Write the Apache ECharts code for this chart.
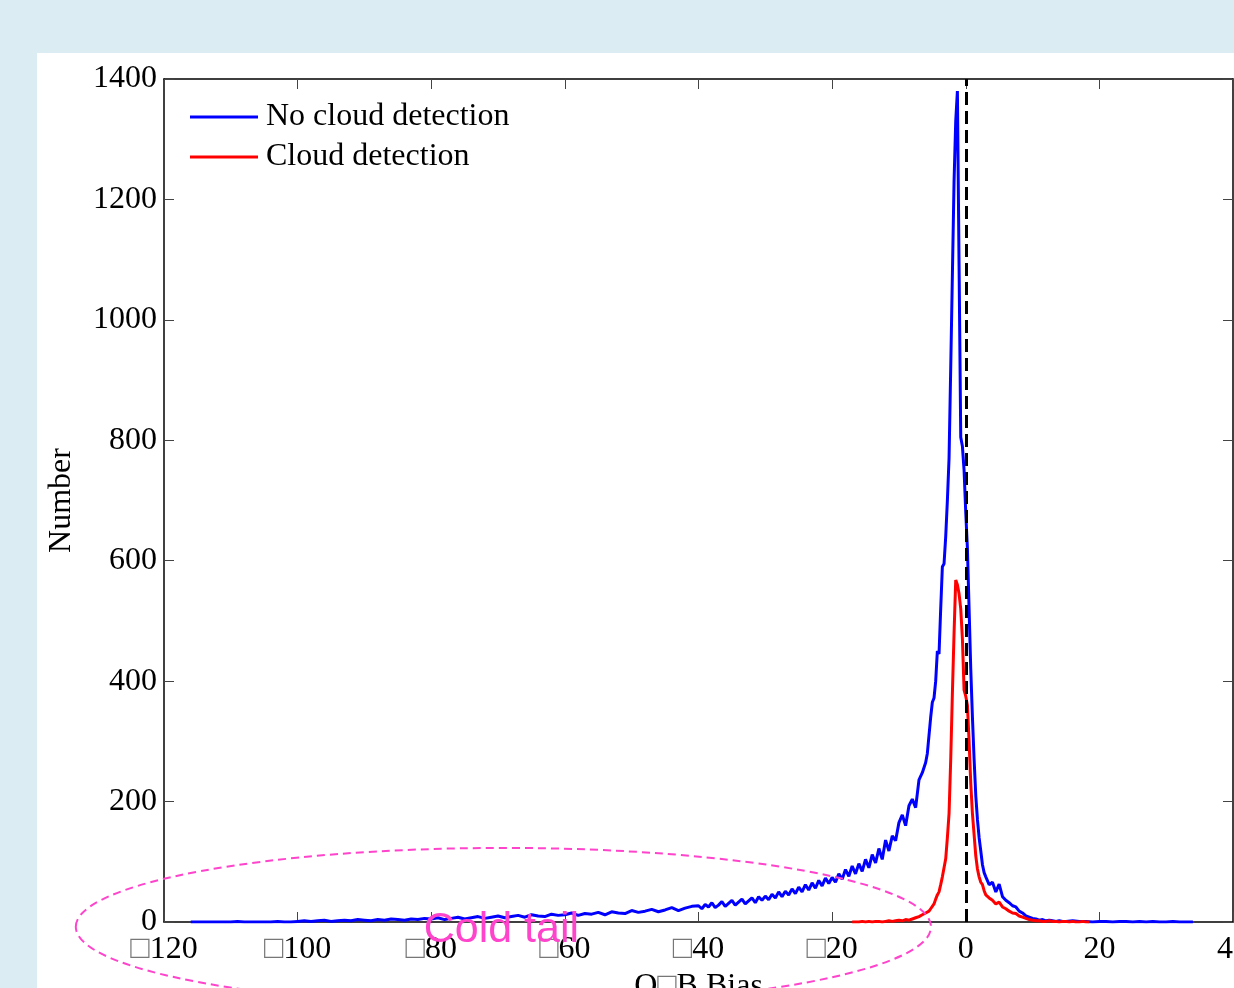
<!DOCTYPE html>
<html>
<head>
<meta charset="utf-8">
<script src="https://cdn.jsdelivr.net/npm/echarts@6/dist/echarts.min.js"></script>
<style>
html,body{margin:0;padding:0;background:#dbedf3;width:1234px;height:988px;overflow:hidden;}
#panel{position:absolute;left:37px;top:53px;width:1197px;height:935px;background:#fff;}
#chart{position:absolute;left:0;top:0;width:1234px;height:988px;}
</style>
</head>
<body>
<div id="panel"></div>
<div id="chart"></div>
<script>
// ---- data ----
const xTicks = [-120, -100, -80, -60, -40, -20, 0, 20, 40];
const yTicks = [0, 200, 400, 600, 800, 1000, 1200, 1400];
const seriesNames = ['No cloud detection', 'Cloud detection'];

const blueX = [
  -116,-115,-114,-113,-112,-111,-110,-109,-108,-107,-106,-105,-104,-103,-102,-101,
  -100,-99,-98,-97,-96,-95,-94,-93,-92,-91,-90,-89,-88,-87,-86,-85,-84,-83,-82,-81,
  -80,-79,-78,-77,-76,-75,-74,-73,-72,-71,-70,-69,-68,-67,-66,-65,-64,-63,-62,-61,
  -60,-59,-58,-57,-56,-55,-54,-53,-52,-51,-50,-49,-48,-47,-46,-45,-44,-43,-42,-41,
  -40,-39.5,-39,-38.5,-38,-37.5,-37,-36.5,-36,-35.5,-35,-34.5,-34,-33.5,-33,-32.5,-32,-31.5,-31,-30.5,
  -30,-29.5,-29,-28.5,-28,-27.5,-27,-26.5,-26,-25.5,-25,-24.5,-24,-23.5,-23,-22.5,-22,-21.5,-21,-20.5,
  -20,-19.5,-19,-18.5,-18,-17.5,-17,-16.5,-16,-15.5,-15,-14.5,-14,-13.5,-13,-12.5,-12,-11.5,-11,-10.5,
  -10,-9.5,-9,-8.5,-8,-7.5,-7,-6.5,
  -6,-5.75,-5.5,-5.25,-5,-4.75,-4.5,-4.25,-4,-3.75,-3.5,-3.25,-3,-2.75,-2.5,-2.25,-2,-1.75,
  -1.5,-1.25,-1,-0.75,-0.5,-0.25,0,0.25,0.5,0.75,1,1.25,1.5,1.75,2,2.25,2.5,2.75,
  3,3.5,4,4.5,5,5.5,6,6.5,7,7.5,8,8.5,9,9.5,10,10.5,11,11.5,12,12.5,13,13.5,14,14.5,
  15,16,17,18,19,20,21,22,23,24,25,26,27,28,29,30,31,32,33,34
];
const blueY = [
  0,0,0,0,0,0,0,1,0,0,0,0,0,1,0,0,
  1,2,1,2,3,1,2,3,2,4,3,2,4,3,5,4,3,5,4,6,
  5,7,4,6,8,5,7,9,6,8,10,7,9,11,8,12,10,9,13,11,
  12,15,11,14,13,16,12,17,15,14,19,16,18,21,17,20,24,19,23,26,
  27,22,29,25,32,24,28,34,26,31,36,28,33,38,30,35,40,32,42,36,
  43,37,46,40,50,42,51,45,55,47,58,50,62,53,65,56,69,60,73,64,
  74,66,80,71,87,76,93,80,97,84,104,90,112,98,122,104,136,118,143,135,
  165,178,160,193,204,190,236,248,
  265,280,310,340,365,372,400,450,445,520,590,595,640,700,770,920,1075,1230,
  1330,1380,1090,805,790,750,680,620,520,420,340,270,210,170,140,118,95,82,
  75,62,66,50,63,42,36,32,27,25,18,15,10,8,6,5,3,4,2,3,2,1,2,1,
  1,2,1,1,0,1,1,0,1,1,0,1,0,1,0,0,1,0,0,0
];

const redX = [
  -17,-16.5,-16,-15.5,-15,-14.5,-14,-13.5,-13,-12.5,-12,-11.5,-11,-10.5,-10,-9.5,-9,-8.5,-8,-7.5,-7,-6.5,
  -6,-5.75,-5.5,-5.25,-5,-4.75,-4.5,-4.25,-4,-3.75,-3.5,-3.25,-3,-2.75,-2.5,-2.25,-2,-1.75,
  -1.5,-1.25,-1,-0.75,-0.5,-0.25,0,0.25,0.5,0.75,1,1.25,1.5,1.75,2,2.25,2.5,2.75,
  3,3.5,4,4.5,5,5.5,6,6.5,7,7.5,8,8.5,9,9.5,10,10.5,11,11.5,12,12.5,13,13.5,14,14.5,
  15,15.5,16,16.5,17,17.5,18,18.5
];
const redY = [
  0,0,0,1,0,1,0,1,1,0,1,2,1,2,3,2,4,3,5,7,9,12,
  15,13,18,22,25,30,38,45,50,62,75,90,105,140,180,270,380,480,
  568,560,545,520,470,385,375,360,300,230,180,145,110,88,75,66,62,52,
  45,40,36,30,33,25,22,18,15,14,10,8,6,4,3,2,2,1,1,2,1,1,0,1,
  1,0,1,0,0,1,0,0
];

// annotation (data coordinates): ellipse round the cold tail
const ellipseCenter = [-69.5, -8];
const ellipseRadius = [64, 131];
const annotationText = 'Cold tail';
const annotationPos = [-69.5, -14];

// ---- chart ----
const serif = "'Liberation Serif','Times New Roman',serif";
const FS = 32;
const fmtX = v => (v < 0 ? '{b|\u25A1}' + Math.abs(v) : String(v));
const fmtY = v => String(v);
const pair = (xs, ys) => xs.map((x, i) => [x, ys[i]]);

const chart = echarts.init(document.getElementById('chart'), null, {renderer: 'canvas'});

const axisCommon = () => ({
  axisLine: {show: true, onZero: false, lineStyle: {color: '#000', width: 1.5}},
  axisTick: {show: true, inside: true, length: 10, lineStyle: {color: '#444', width: 1}},
  splitLine: {show: false}
});

chart.setOption({
  animation: false,
  backgroundColor: 'transparent',
  grid: {left: 164, right: 1, top: 79, bottom: 66, containLabel: false, outerBoundsMode: 'none'},
  legend: {
    data: seriesNames,
    orient: 'vertical',
    left: 185, top: 96,
    icon: 'rect', itemWidth: 68, itemHeight: 3, itemGap: 8,
    textStyle: {fontFamily: serif, fontSize: FS, lineHeight: 32, color: '#000', padding: [0, 0, 0, 3]}
  },
  xAxis: [
    Object.assign({
      type: 'value', min: xTicks[0], max: xTicks[xTicks.length - 1], interval: 20,
      position: 'bottom',
      name: 'O{b|\u25A1}B Bias', nameLocation: 'middle', nameGap: 46,
      nameTextStyle: {fontFamily: serif, fontSize: FS, color: '#000',
        rich: {b: {fontFamily: serif, fontSize: FS, color: '#777'}}},
      axisLabel: {formatter: fmtX, fontFamily: serif, fontSize: FS, color: '#000', margin: 12,
        rich: {b: {fontFamily: serif, fontSize: FS, color: '#777'}}}
    }, axisCommon()),
    Object.assign({
      type: 'value', min: xTicks[0], max: xTicks[xTicks.length - 1], interval: 20,
      position: 'top', axisLabel: {show: false}
    }, axisCommon())
  ],
  yAxis: [
    Object.assign({
      type: 'value', min: yTicks[0], max: yTicks[yTicks.length - 1], interval: 200,
      position: 'left',
      name: 'Number', nameLocation: 'middle', nameGap: 86, nameRotate: 90,
      nameTextStyle: {fontFamily: serif, fontSize: FS, color: '#000'},
      axisLabel: {formatter: fmtY, fontFamily: serif, fontSize: FS, color: '#000', margin: 7}
    }, axisCommon()),
    Object.assign({
      type: 'value', min: yTicks[0], max: yTicks[yTicks.length - 1], interval: 200,
      position: 'right', axisLabel: {show: false}
    }, axisCommon())
  ],
  series: [
    {
      name: seriesNames[0], type: 'line', data: pair(blueX, blueY),
      showSymbol: false, symbol: 'none', color: '#0000ff',
      lineStyle: {color: '#0000ff', width: 3}, z: 3
    },
    {
      name: seriesNames[1], type: 'line', data: pair(redX, redY),
      showSymbol: false, symbol: 'none', color: '#ff0000',
      lineStyle: {color: '#ff0000', width: 3}, z: 4,
      markLine: {
        silent: true, symbol: ['none', 'none'], label: {show: false},
        lineStyle: {color: '#000', width: 3, type: [13, 6]},
        data: [{xAxis: 0}]
      }
    }
  ]
});

const c = chart.convertToPixel({xAxisIndex: 0, yAxisIndex: 0}, ellipseCenter);
const e1 = chart.convertToPixel({xAxisIndex: 0, yAxisIndex: 0}, [ellipseCenter[0] + ellipseRadius[0], ellipseCenter[1] + ellipseRadius[1]]);
const t = chart.convertToPixel({xAxisIndex: 0, yAxisIndex: 0}, annotationPos);
chart.setOption({
  graphic: [
    {
      type: 'ellipse', z: 10, silent: true,
      shape: {cx: c[0] + 2, cy: c[1], rx: Math.abs(e1[0] - c[0]), ry: Math.abs(c[1] - e1[1])},
      style: {fill: 'none', stroke: '#ff44cc', lineWidth: 2, lineDash: [8, 5]}
    },
    {
      type: 'text', z: 11, silent: true, x: t[0], y: t[1],
      style: {text: annotationText, fill: '#ff44cc', font: "43px 'Liberation Sans', Arial, sans-serif",
              align: 'center', verticalAlign: 'middle'}
    }
  ]
});
</script>
</body>
</html>
